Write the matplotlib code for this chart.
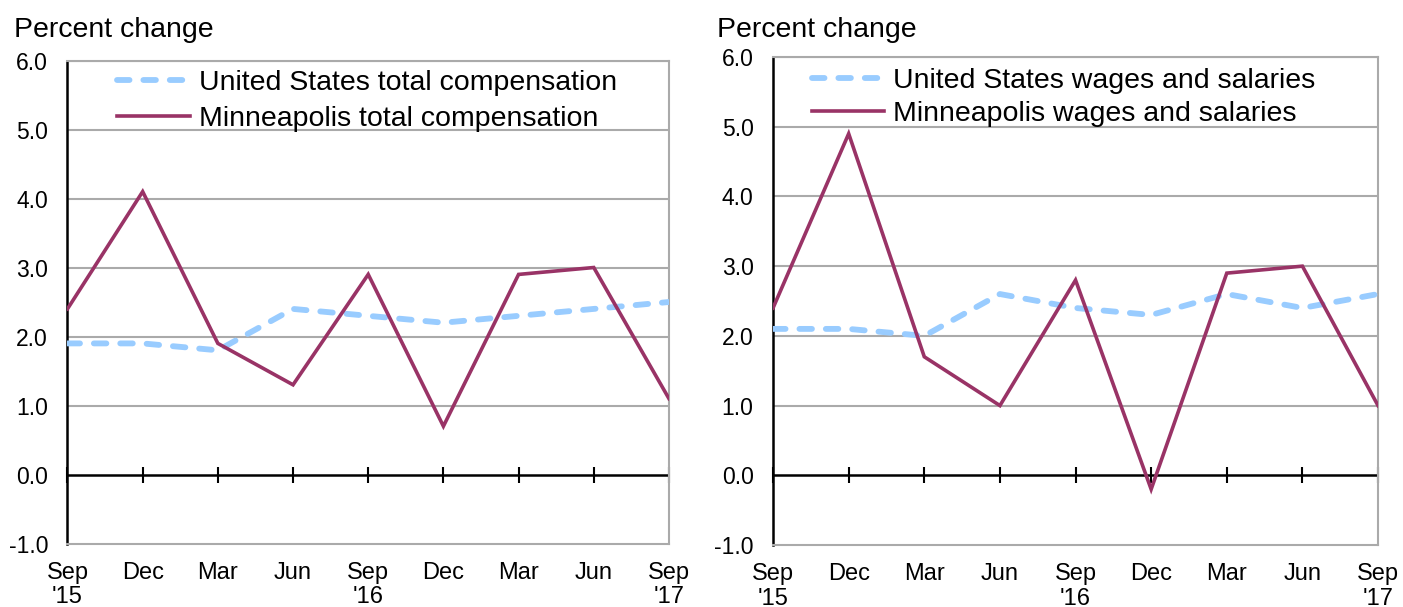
import matplotlib
matplotlib.use("Agg")
import matplotlib.pyplot as plt

plt.rcParams['font.family'] = ['Liberation Sans', 'DejaVu Sans']
plt.rcParams['lines.scale_dashes'] = False

quarters = ["Sep\n'15", "Dec", "Mar", "Jun", "Sep\n'16", "Dec", "Mar", "Jun", "Sep\n'17"]

us_total_comp = [1.9, 1.9, 1.8, 2.4, 2.3, 2.2, 2.3, 2.4, 2.5]
mpls_total_comp = [2.4, 4.1, 1.9, 1.3, 2.9, 0.7, 2.9, 3.0, 1.1]

us_wages = [2.1, 2.1, 2.0, 2.6, 2.4, 2.3, 2.6, 2.4, 2.6]
mpls_wages = [2.4, 4.9, 1.7, 1.0, 2.8, -0.2, 2.9, 3.0, 1.0]

y_ticks = [-1.0, 0.0, 1.0, 2.0, 3.0, 4.0, 5.0, 6.0]

US_COLOR = '#99CCFF'
MPLS_COLOR = '#993366'
GRID_COLOR = '#AAAAAA'

fig = plt.figure(figsize=(14.03, 6.07), dpi=100)

panels = [
    dict(rect=[0.0481, 0.1046, 0.4287, 0.7957], us=us_total_comp, mpls=mpls_total_comp,
         us_label='United States total compensation', mpls_label='Minneapolis total compensation',
         legend_x=0.083, legend_y=0.981, spacing=0.36, title_x=14 / 1403),
    dict(rect=[0.5510, 0.1021, 0.4312, 0.8040], us=us_wages, mpls=mpls_wages,
         us_label='United States wages and salaries', mpls_label='Minneapolis wages and salaries',
         legend_x=0.064, legend_y=0.978, spacing=0.26, title_x=717 / 1403),
]

for p in panels:
    ax = fig.add_axes(p['rect'])
    x = list(range(len(quarters)))

    ax.set_xlim(0, len(quarters) - 1)
    ax.set_ylim(-1.0, 6.0)
    ax.set_yticks(y_ticks)
    ax.set_yticklabels([f'{v:.1f}' for v in y_ticks])
    ax.set_xticks(x)
    ax.set_xticklabels(quarters, linespacing=1.15)

    for yv in y_ticks[1:]:
        if yv != 0.0:
            ax.axhline(yv, color=GRID_COLOR, lw=1.5, zorder=1)

    for side in ('top', 'right', 'bottom'):
        ax.spines[side].set_color(GRID_COLOR)
        ax.spines[side].set_linewidth(1.5)
    ax.spines['left'].set_color('black')
    ax.spines['left'].set_linewidth(1.8)

    ax.tick_params(axis='both', length=0)
    ax.tick_params(axis='y', labelsize=16.5, pad=14)
    ax.tick_params(axis='x', labelsize=17, pad=13)

    # zero baseline with tick marks at each quarter
    ax.axhline(0.0, color='black', lw=1.8, zorder=2)
    ax.plot(x, [0.0] * len(x), linestyle='none', marker='|', markersize=12,
            markeredgewidth=1.5, color='black', zorder=2, clip_on=False)

    l_us, = ax.plot(x, p['us'], color=US_COLOR, lw=4.2, solid_capstyle='round',
                    dash_capstyle='round', zorder=3, label=p['us_label'])
    l_us.set_dashes((9, 10))
    ax.plot(x, p['mpls'], color=MPLS_COLOR, lw=2.6, zorder=4, label=p['mpls_label'],
            solid_joinstyle='miter')

    ax.legend(loc='upper left', bbox_to_anchor=(p['legend_x'], p['legend_y']), frameon=False,
              fontsize=20.5, handlelength=2.55, handletextpad=0.3,
              labelspacing=p['spacing'], borderpad=0, borderaxespad=0)

    fig.text(p['title_x'], 0.972, 'Percent change', fontsize=20.5, ha='left', va='top')

fig.savefig('out.png', dpi=100)
